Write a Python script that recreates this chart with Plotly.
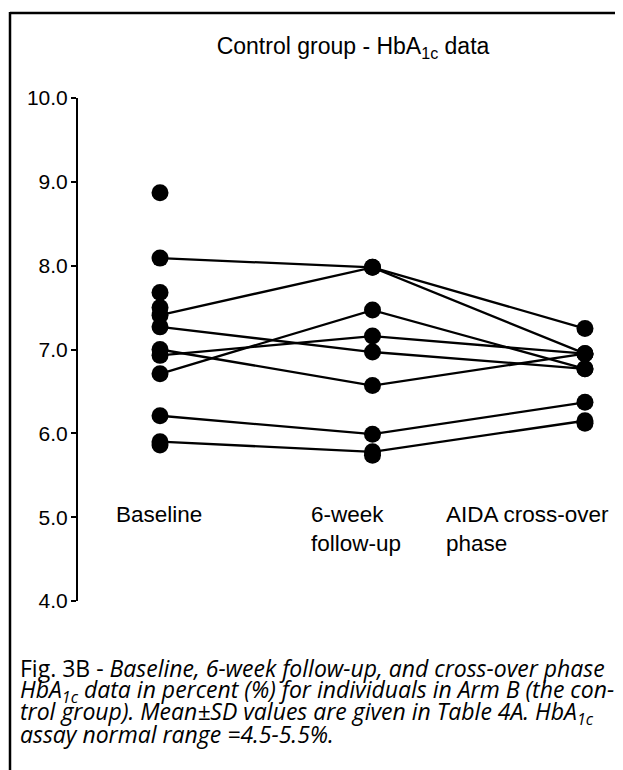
import plotly.graph_objects as go

# ---- data ----
categories = ["Baseline", "6-week follow-up", "AIDA cross-over phase"]
subject_a = [8.09, 7.98, 7.25]
subject_b = [7.41, 7.98, 6.95]
subject_c = [7.27, 6.97, 6.77]
subject_d = [7.00, 6.57, 6.95]
subject_e = [6.93, 7.16, 6.95]
subject_f = [6.71, 7.47, 6.77]
subject_g = [6.21, 5.99, 6.37]
subject_h = [5.90, 5.78, 6.15]
connected = [subject_a, subject_b, subject_c, subject_d,
             subject_e, subject_f, subject_g, subject_h]
baseline_only = [8.87, 7.68, 7.50, 5.86]
followup_only = [5.74]
crossover_only = [6.12]
y_ticks = [4.0, 5.0, 6.0, 7.0, 8.0, 9.0, 10.0]

# page offset of the figure (default body margin)
OFF = 8
W, H = 623 - OFF, 770 - OFF
AXIS_X, TOP_Y, BOT_Y = 78, 98, 601          # page pixels
ML, MT = AXIS_X - OFF, TOP_Y - OFF
PLOT_W = W - ML
PLOT_H = BOT_Y - TOP_Y

def px(x):
    return (x - AXIS_X) / PLOT_W

def py(y):
    return (BOT_Y - y) / PLOT_H

fig = go.Figure()
for s in connected:
    fig.add_trace(go.Scatter(x=categories, y=s, mode="lines+markers",
                             line=dict(color="black", width=2.3),
                             marker=dict(color="black", size=17),
                             showlegend=False, hoverinfo="skip"))
fig.add_trace(go.Scatter(x=[categories[0]] * len(baseline_only), y=baseline_only,
                         mode="markers", marker=dict(color="black", size=17),
                         showlegend=False))
fig.add_trace(go.Scatter(x=[categories[1]] * len(followup_only), y=followup_only,
                         mode="markers", marker=dict(color="black", size=17),
                         showlegend=False))
fig.add_trace(go.Scatter(x=[categories[2]] * len(crossover_only), y=crossover_only,
                         mode="markers", marker=dict(color="black", size=17),
                         showlegend=False))

label_font = dict(family="Liberation Sans, Arial", size=22.5, color="black")
fig.add_annotation(x=categories[0], y=5.2, xref="x", yref="y", text="Baseline",
                   showarrow=False, xanchor="left", yanchor="top", align="left",
                   xshift=-46, font=label_font)
fig.add_annotation(x=categories[1], y=5.2, xref="x", yref="y",
                   text="6-week<br>follow-up",
                   showarrow=False, xanchor="left", yanchor="top", align="left",
                   xshift=-63, font=label_font)
fig.add_annotation(x=categories[2], y=5.2, xref="x", yref="y",
                   text="AIDA cross-over<br>phase",
                   showarrow=False, xanchor="left", yanchor="top", align="left",
                   xshift=-141, font=label_font)

cap_font = dict(family="Open Sans", size=23, color="black")
cap_lines = [
    "Fig. 3B - <i>Baseline, 6-week follow-up, and cross-over phase</i>",
    "<i>HbA<sub>1c</sub> data in percent (%) for individuals in Arm B (the con-</i>",
    "<i>trol group). Mean±SD values are given in Table 4A. HbA<sub>1c</sub></i>",
    "<i>assay normal range =4.5-5.5%.</i>",
]
cap_y = [668, 690, 712, 734]
for t, yy in zip(cap_lines, cap_y):
    fig.add_annotation(x=px(18), y=py(yy), xref="paper", yref="paper", text=t,
                       showarrow=False, xanchor="left", yanchor="middle",
                       align="left", font=cap_font)

# frame (left and top edges of the scanned box)
fig.add_shape(type="line", xref="paper", yref="paper",
              x0=px(10), x1=px(10), y0=py(12), y1=py(775),
              line=dict(color="black", width=2.5))
fig.add_shape(type="line", xref="paper", yref="paper",
              x0=px(10), x1=px(623), y0=py(13), y1=py(13),
              line=dict(color="black", width=2.5))

fig.update_layout(
    width=W, height=H,
    margin=dict(l=ML, r=0, t=MT, b=H - (MT + PLOT_H), pad=0),
    paper_bgcolor="white", plot_bgcolor="white",
    title=dict(text="Control group - HbA<sub>1c</sub> data",
               x=(353 - OFF) / W, xanchor="center", xref="container",
               y=1 - (46 - OFF) / H, yanchor="middle", yref="container",
               font=dict(family="Liberation Sans, Arial", size=23, color="black")),
    xaxis=dict(type="category", range=[-0.386, 2.179], showline=False,
               showticklabels=False, ticks="", showgrid=False, zeroline=False),
    yaxis=dict(range=[4, 10], tickvals=y_ticks, tickformat=".1f",
               showline=True, linecolor="black", linewidth=2,
               ticks="outside", ticklen=5, tickwidth=2, tickcolor="black",
               ticklabelstandoff=-1,
               showgrid=False, zeroline=False,
               tickfont=dict(family="Liberation Sans, Arial", size=21, color="black")),
)

fig.write_html("out.html", config={"displayModeBar": False})
